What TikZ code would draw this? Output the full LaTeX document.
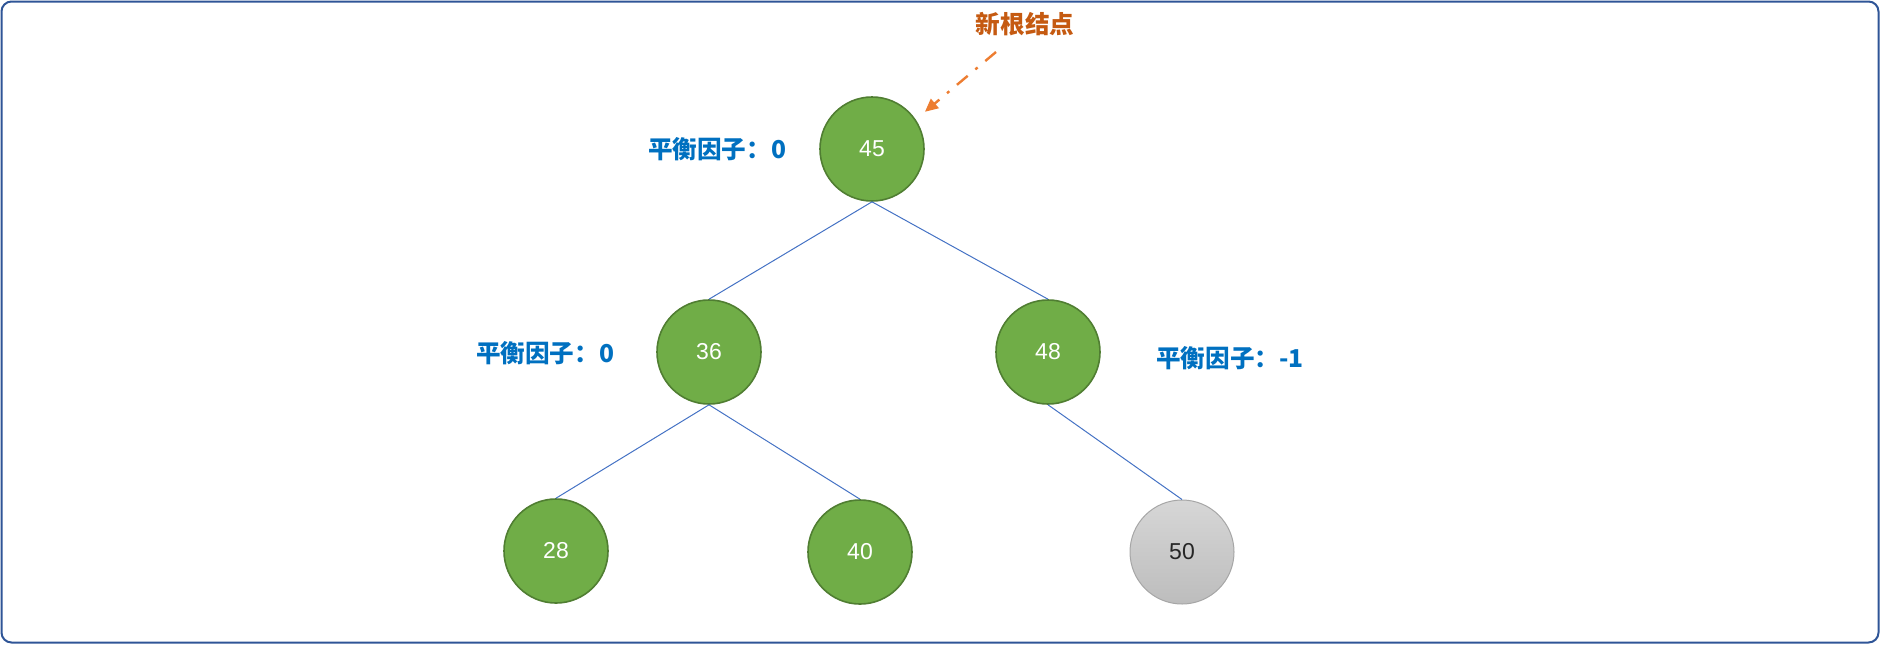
\documentclass[tikz,border=0pt]{standalone}
\usepackage{fontspec}
\setmainfont{Liberation Sans}
\newfontfamily\cjk{Noto Sans CJK SC}
\usepackage{tikz}
\usetikzlibrary{positioning,arrows.meta}
\usepackage{xcolor}
\definecolor{frameBlue}{HTML}{2F5597}
\definecolor{edgeBlue}{HTML}{4472C4}
\definecolor{labelBlue}{HTML}{0070C0}
\definecolor{leafGreen}{HTML}{70AD47}
\definecolor{darkGreen}{HTML}{507E32}
\definecolor{rootOrange}{HTML}{C55A11}
\definecolor{arrowOrange}{HTML}{ED7D31}

\begin{document}
\begin{tikzpicture}[
    x=0.5pt, y=-0.5pt,
    treeNode/.style={circle, draw=darkGreen, fill=leafGreen, line width=0.8pt, minimum size=52pt, inner sep=0pt, text=white, font=\fontsize{11.5}{14}\selectfont},
    newNode/.style={circle, draw=black!35, top color=black!16, bottom color=black!26, line width=0.5pt, minimum size=52pt, inner sep=0pt, text=black!85, font=\fontsize{11.5}{14}\selectfont},
    factorLabel/.style={text=labelBlue, font=\cjk\bfseries\fontsize{12.3}{14}\selectfont, inner sep=0pt},
    edgeLine/.style={draw=edgeBlue, line width=0.5pt},
    pointerArrow/.style={-{Triangle[length=6.5pt, width=6pt]}, draw=arrowOrange, line width=1.2pt, dash pattern=on 7pt off 5pt on 1.5pt off 5pt, shorten >=6pt}
]
    \useasboundingbox (0,0) rectangle (1880,644);
    \draw[frameBlue, line width=1pt, rounded corners=5pt] (1.5,1.5) rectangle (1878.5,642.5);

    % tree nodes
    \node[treeNode] (n45) at (872, 149) {45};
    \node[treeNode] (n36) at (709, 352) {36};
    \node[treeNode] (n48) at (1048, 352) {48};
    \node[treeNode] (n28) at (556, 551) {28};
    \node[treeNode] (n40) at (860, 552) {40};
    \node[newNode]  (n50) at (1182, 552) {50};

    % balance factors
    \node[factorLabel] (bf45) at (717, 149) {平衡因子：0};
    \node[factorLabel] (bf36) at (545, 353) {平衡因子：0};
    \node[factorLabel] (bf48) at (1230, 358) {平衡因子：-1};

    \node[text=rootOrange, font=\cjk\bfseries\fontsize{12.3}{14}\selectfont, inner sep=0pt] (newRoot) at (1025, 24) {新根结点};
    \coordinate (arrowStart) at (996, 52);

    \draw[edgeLine] (n45.south) -- (n36.north);
    \draw[edgeLine] (n45.south) -- (n48.north);
    \draw[edgeLine] (n36.south) -- (n28.north);
    \draw[edgeLine] (n36.south) -- (n40.north);
    \draw[edgeLine] (n48.south) -- (n50.north);
    \draw[pointerArrow] (arrowStart) -- (n45.34);
\end{tikzpicture}
\end{document}
